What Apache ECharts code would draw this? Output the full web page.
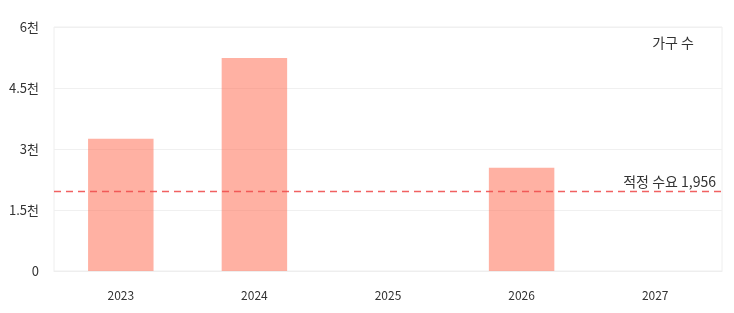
<!DOCTYPE html>
<html><head><meta charset="utf-8">
<script src="https://cdn.jsdelivr.net/npm/echarts@6/dist/echarts.min.js"></script>
<style>html,body{margin:0;padding:0;background:#fff}#c{width:734px;height:313px}</style>
</head><body><div id="c"></div>
<script>
const categories = ['2023','2024','2025','2026','2027'];
const households = [3250, 5240, 0, 2540, 0];
const demandValue = 1956;
const demandLabel = '적정 수요';
const seriesName = '가구 수';
const yTicks = [0, 1500, 3000, 4500, 6000];

const chart = echarts.init(document.getElementById('c'));
const font = "'Noto Sans CJK KR','Noto Sans',sans-serif";
const red = '#f05050';
chart.setOption({
  animation: false,
  textStyle: {fontFamily: font},
  grid: {left: 54, right: 12, top: 27, bottom: 42, show: true, borderColor: '#eeeeee', borderWidth: 1},
  title: {text: seriesName, right: 35, top: 31, textStyle: {fontSize: 14, fontWeight: 'normal', color: '#333', fontFamily: font}},
  xAxis: [{
    type: 'category', data: categories,
    axisLine: {lineStyle: {color: '#eeeeee'}}, axisTick: {show: false},
    axisLabel: {color: '#333', fontSize: 12, margin: 18}
  }, {
    type: 'value', min: 0, max: 1, show: false
  }],
  yAxis: {
    type: 'value', min: yTicks[0], max: yTicks[yTicks.length-1], interval: 1500,
    axisLine: {show: false}, axisTick: {show: false},
    splitLine: {lineStyle: {color: '#f0f0f0'}},
    axisLabel: {color: '#333', fontSize: 13, margin: 15,
      formatter: v => v === 0 ? '0' : (v/1000) + '천'}
  },
  series: [{
    name: seriesName, type: 'bar', data: households, barWidth: '49%',
    itemStyle: {color: 'rgba(255,99,71,0.5)'}
  }, {
    name: demandLabel, type: 'line', xAxisIndex: 1, silent: true,
    data: [[0, demandValue], [1, demandValue]],
    symbol: 'none', color: red,
    lineStyle: {color: red, type: [7, 5], width: 1.5, opacity: 0.9},
    endLabel: {show: true, formatter: demandLabel + ' ' + demandValue.toLocaleString('en-US'),
      color: '#333', fontSize: 14, align: 'right', verticalAlign: 'bottom', offset: [-6, -3], distance: 0}
  }]
});
</script></body></html>
